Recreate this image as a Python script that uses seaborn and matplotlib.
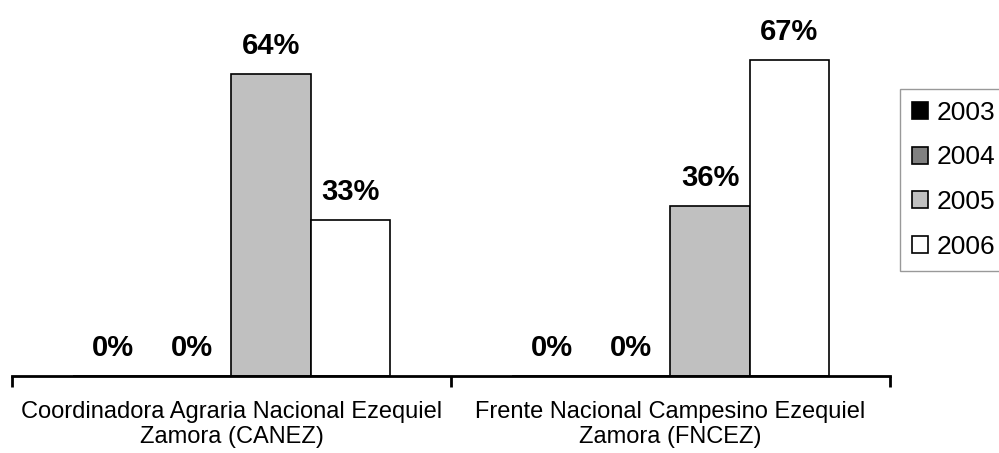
import matplotlib
matplotlib.use("Agg")
import matplotlib.pyplot as plt
import seaborn as sns
import pandas as pd

# data
categories = ["Coordinadora Agraria Nacional Ezequiel\nZamora (CANEZ)",
              "Frente Nacional Campesino Ezequiel\nZamora (FNCEZ)"]
years = ["2003", "2004", "2005", "2006"]
values_2003 = [0, 0]
values_2004 = [0, 0]
values_2005 = [64, 36]
values_2006 = [33, 67]
colors = ["#000000", "#808080", "#c0c0c0", "#ffffff"]

rows = []
for yr, vals in zip(years, [values_2003, values_2004, values_2005, values_2006]):
    for cat, v in zip(categories, vals):
        rows.append({"cat": cat, "year": yr, "value": v})
df = pd.DataFrame(rows)

sns.set_style("white")
plt.rcParams["font.family"] = ["Liberation Sans", "DejaVu Sans"]
plt.rcParams["text.color"] = "black"
plt.rcParams["xtick.color"] = "black"
plt.rcParams["xtick.labelcolor"] = "black"

fig = plt.figure(figsize=(9.99, 4.53), dpi=100)
ax = fig.add_axes([12 / 999, 77 / 453, 878 / 999, 376 / 453])

sns.barplot(data=df, x="cat", y="value", hue="year", palette=colors,
            width=0.72, gap=0, edgecolor="black", linewidth=1.2,
            saturation=1, errorbar=None, ax=ax, legend=True)

for cont in ax.containers:
    ax.bar_label(cont, fmt="%d%%", padding=10, fontsize=21,
                 fontweight="bold", color="black")

ax.set_xlim(-0.5, 1.5)
ax.set_ylim(0, 79.7)
ax.set_xlabel("")
ax.set_ylabel("")
ax.set_yticks([])
for s in ["top", "right", "left"]:
    ax.spines[s].set_visible(False)
ax.spines["bottom"].set_linewidth(2)
ax.spines["bottom"].set_color("black")

ax.set_xticks([0, 1])
ax.set_xticklabels(categories, fontsize=17, linespacing=1.2, color="black")
ax.tick_params(axis="x", which="major", length=0, pad=18)
ax.set_xticks([-0.5, 0.5, 1.5], minor=True)
ax.tick_params(axis="x", which="minor", length=8, width=2, color="black",
               direction="out", bottom=True)

ax.legend_.remove()
handles = ax.containers
leg = fig.legend([c[0] for c in handles], years,
                 loc="upper left", bbox_to_anchor=(900 / 999, 1 - 89 / 453),
                 fontsize=19, frameon=True, fancybox=False,
                 handlelength=0.6, handleheight=0.6, handletextpad=0.35,
                 labelspacing=0.78, borderpad=0.45, borderaxespad=0)
leg.get_frame().set_edgecolor("#808080")
leg.get_frame().set_linewidth(1)
for t in leg.get_texts():
    t.set_color("black")

fig.savefig("out.png", dpi=100)
plt.close(fig)
